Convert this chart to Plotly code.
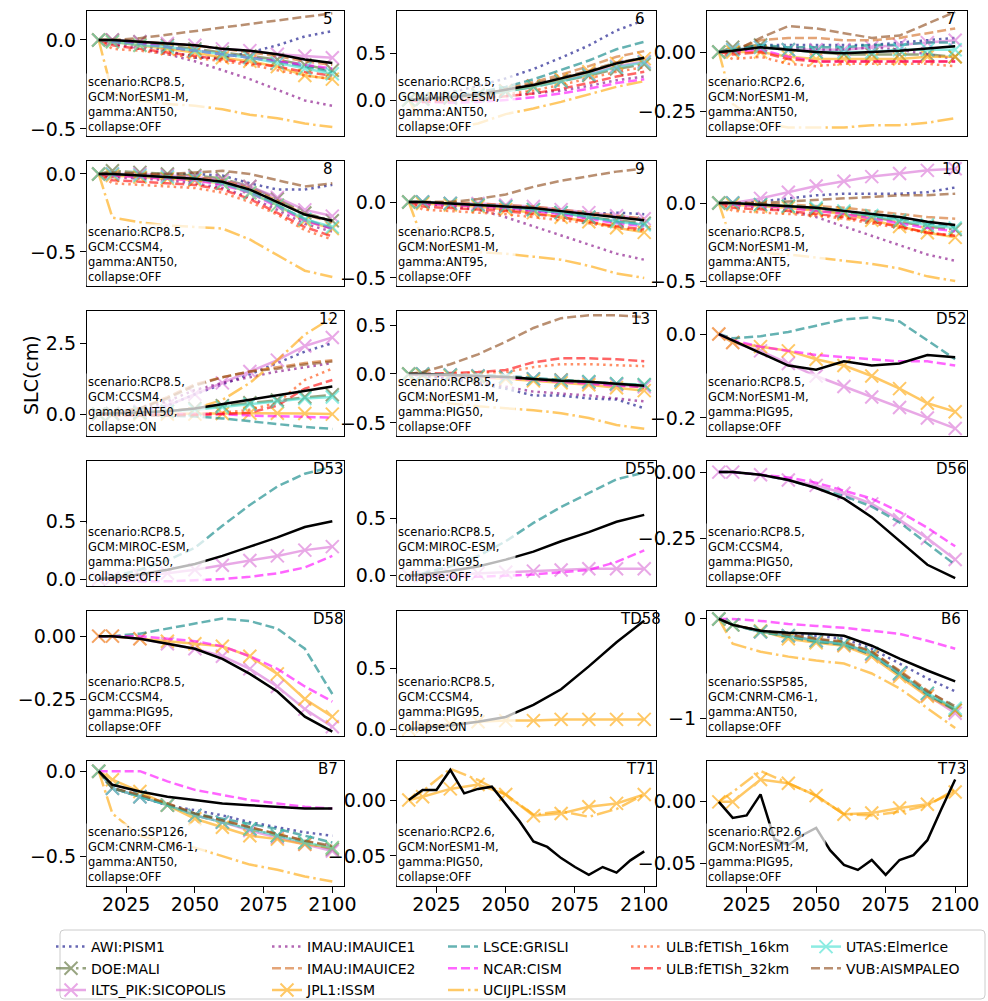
import plotly.graph_objects as go

# ---------------------------------------------------------------- data
YRS = [2015, 2020, 2030, 2040, 2050, 2060, 2070, 2080, 2090, 2100]
YRS5 = [2015, 2020, 2025, 2030, 2035, 2040, 2045, 2050, 2055,
        2060, 2065, 2070, 2075, 2080, 2085, 2090, 2095, 2100]

P5 = {
    'AWI': [0, -0.01, -0.03, -0.06, -0.1, -0.1, -0.07, -0.03, 0.02, 0.05],
    'DOE': [0, 0, -0.01, -0.03, -0.05, -0.07, -0.09, -0.11, -0.14, -0.17],
    'ILTS': [0, 0, -0.01, -0.02, -0.03, -0.05, -0.06, -0.08, -0.09, -0.1],
    'IMAU1': [0, -0.02, -0.05, -0.08, -0.12, -0.17, -0.22, -0.28, -0.34, -0.37],
    'IMAU2': [0, 0, -0.01, -0.02, -0.03, -0.05, -0.07, -0.09, -0.12, -0.14],
    'JPL1': [0, -0.01, -0.03, -0.05, -0.07, -0.1, -0.12, -0.15, -0.2, -0.22],
    'LSCE': [0, -0.01, -0.02, -0.04, -0.06, -0.08, -0.1, -0.12, -0.15, -0.18],
    'NCAR': [0, -0.01, -0.02, -0.04, -0.06, -0.08, -0.1, -0.12, -0.14, -0.16],
    'UCIJPL': [0, -0.3, -0.34, -0.36, -0.37, -0.39, -0.42, -0.44, -0.47, -0.49],
    'ULB16': [0, -0.05, -0.06, -0.08, -0.1, -0.12, -0.14, -0.17, -0.2, -0.22],
    'ULB32': [0, -0.03, -0.05, -0.07, -0.09, -0.11, -0.13, -0.15, -0.18, -0.2],
    'UTAS': [0, -0.01, -0.03, -0.04, -0.06, -0.08, -0.1, -0.13, -0.16, -0.19],
    'VUB': [0, 0, 0.01, 0.03, 0.05, 0.07, 0.09, 0.11, 0.13, 0.15],
    'ENS': [0, 0, -0.01, -0.02, -0.03, -0.05, -0.06, -0.08, -0.11, -0.13],
}
P6 = {
    'AWI': [0, 0.02, 0.08, 0.15, 0.23, 0.33, 0.45, 0.58, 0.74, 0.85],
    'DOE': [0, 0.01, 0.02, 0.05, 0.09, 0.14, 0.2, 0.26, 0.33, 0.38],
    'ILTS': [0, 0.01, 0.03, 0.06, 0.1, 0.15, 0.21, 0.28, 0.36, 0.41],
    'IMAU1': [0, 0, 0.01, 0.02, 0.04, 0.07, 0.1, 0.15, 0.21, 0.25],
    'IMAU2': [0, 0.01, 0.03, 0.07, 0.12, 0.19, 0.27, 0.36, 0.46, 0.52],
    'JPL1': [0, 0.01, 0.03, 0.06, 0.1, 0.15, 0.22, 0.3, 0.39, 0.44],
    'LSCE': [0, 0.01, 0.04, 0.08, 0.14, 0.22, 0.32, 0.42, 0.54, 0.62],
    'NCAR': [0, -0.02, -0.03, -0.02, 0, 0.03, 0.07, 0.12, 0.18, 0.22],
    'UCIJPL': [0, -0.27, -0.3, -0.25, -0.15, -0.09, -0.02, 0.06, 0.14, 0.2],
    'ULB16': [0, 0, 0.01, 0.03, 0.06, 0.1, 0.16, 0.23, 0.3, 0.35],
    'ULB32': [0, -0.02, -0.01, 0.01, 0.04, 0.07, 0.12, 0.18, 0.25, 0.3],
    'UTAS': [0, 0.01, 0.03, 0.05, 0.09, 0.14, 0.2, 0.27, 0.35, 0.4],
    'VUB': [0, 0.01, 0.03, 0.06, 0.11, 0.17, 0.24, 0.31, 0.4, 0.45],
    'ENS': [0, 0.01, 0.03, 0.06, 0.11, 0.16, 0.23, 0.3, 0.39, 0.45],
}
P7 = {
    'AWI': [0, 0.01, 0.03, 0.03, 0.03, 0.03, 0.03, 0.04, 0.05, 0.06],
    'DOE': [0, 0.02, 0.03, 0.01, 0, -0.01, -0.01, -0.01, -0.01, -0.02],
    'ILTS': [0, 0.01, 0.02, 0.01, 0.01, 0.01, 0.02, 0.03, 0.04, 0.05],
    'IMAU1': [0, 0, 0.02, 0.02, 0.01, 0.01, 0.02, 0.01, -0.01, -0.03],
    'IMAU2': [0, 0.01, 0.05, 0.06, 0.06, 0.05, 0.05, 0.06, 0.08, 0.1],
    'JPL1': [0, 0, 0, -0.02, -0.03, -0.03, -0.03, -0.03, -0.02, -0.02],
    'LSCE': [0, 0.01, 0.03, 0.02, 0.02, 0.02, 0.03, 0.03, 0.04, 0.04],
    'NCAR': [0, 0, 0.01, -0.02, -0.04, -0.04, -0.04, -0.04, -0.04, -0.04],
    'UCIJPL': [0, -0.22, -0.3, -0.32, -0.32, -0.32, -0.31, -0.31, -0.3, -0.28],
    'ULB16': [0, -0.03, -0.02, -0.05, -0.06, -0.05, -0.05, -0.05, -0.05, -0.06],
    'ULB32': [0, -0.01, 0, -0.03, -0.04, -0.04, -0.04, -0.04, -0.04, -0.04],
    'UTAS': [0, 0.01, 0.02, 0.01, 0, 0, 0, 0.01, 0.01, 0.01],
    'VUB': [0, 0, 0.06, 0.11, 0.1, 0.08, 0.06, 0.07, 0.12, 0.17],
    'ENS': [0, 0.005, 0.02, 0.01, 0, -0.005, 0, 0.005, 0.015, 0.025],
}
P8 = {
    'AWI': [0, 0, 0, 0, 0, -0.01, -0.06, -0.1, -0.1, -0.07],
    'DOE': [0, 0.02, 0.01, 0, -0.01, -0.03, -0.08, -0.16, -0.25, -0.3],
    'ILTS': [0, 0, 0, -0.01, -0.02, -0.04, -0.08, -0.15, -0.23, -0.27],
    'IMAU1': [0, -0.02, -0.03, -0.04, -0.06, -0.09, -0.15, -0.23, -0.32, -0.37],
    'IMAU2': [0, 0, 0, -0.01, -0.02, -0.04, -0.09, -0.17, -0.26, -0.31],
    'JPL1': [0, -0.01, -0.02, -0.03, -0.04, -0.06, -0.12, -0.2, -0.3, -0.35],
    'LSCE': [0, 0, -0.01, -0.02, -0.03, -0.06, -0.11, -0.2, -0.29, -0.35],
    'NCAR': [0, -0.01, -0.02, -0.03, -0.04, -0.07, -0.12, -0.21, -0.3, -0.35],
    'UCIJPL': [0, -0.28, -0.31, -0.33, -0.34, -0.35, -0.42, -0.52, -0.62, -0.66],
    'ULB16': [0, -0.06, -0.07, -0.08, -0.09, -0.12, -0.18, -0.26, -0.36, -0.42],
    'ULB32': [0, -0.04, -0.05, -0.06, -0.07, -0.1, -0.16, -0.25, -0.34, -0.4],
    'UTAS': [0, 0, -0.01, -0.02, -0.03, -0.06, -0.12, -0.2, -0.29, -0.34],
    'VUB': [0, 0.01, 0, 0, 0.01, 0.02, 0, -0.04, -0.08, -0.06],
    'ENS': [0, 0, -0.01, -0.02, -0.03, -0.05, -0.1, -0.18, -0.26, -0.3],
}
P9 = {
    'AWI': [0, -0.01, -0.02, -0.03, -0.05, -0.06, -0.07, -0.08, -0.07, -0.08],
    'DOE': [0, 0, -0.01, -0.02, -0.03, -0.05, -0.07, -0.1, -0.12, -0.14],
    'ILTS': [0, 0, -0.01, -0.01, -0.02, -0.03, -0.05, -0.07, -0.09, -0.11],
    'IMAU1': [0, -0.01, -0.03, -0.05, -0.1, -0.16, -0.22, -0.28, -0.34, -0.38],
    'IMAU2': [0, 0, 0, -0.01, -0.02, -0.03, -0.05, -0.07, -0.09, -0.11],
    'JPL1': [0, -0.01, -0.02, -0.03, -0.05, -0.07, -0.1, -0.13, -0.17, -0.2],
    'LSCE': [0, 0, -0.01, -0.02, -0.03, -0.05, -0.07, -0.1, -0.13, -0.15],
    'NCAR': [0, -0.01, -0.02, -0.03, -0.04, -0.06, -0.08, -0.11, -0.14, -0.16],
    'UCIJPL': [0, -0.25, -0.32, -0.33, -0.34, -0.36, -0.38, -0.42, -0.47, -0.5],
    'ULB16': [0, -0.05, -0.06, -0.07, -0.08, -0.1, -0.12, -0.14, -0.17, -0.19],
    'ULB32': [0, -0.03, -0.04, -0.05, -0.06, -0.08, -0.1, -0.13, -0.16, -0.18],
    'UTAS': [0, 0, -0.01, -0.02, -0.03, -0.05, -0.07, -0.1, -0.13, -0.15],
    'VUB': [0, 0, 0, 0.02, 0.05, 0.1, 0.14, 0.17, 0.2, 0.22],
    'ENS': [0, 0, -0.01, -0.02, -0.03, -0.04, -0.06, -0.08, -0.1, -0.12],
}
P10 = {
    'AWI': [0, 0, 0.01, 0.03, 0.05, 0.06, 0.06, 0.06, 0.07, 0.1],
    'DOE': [0, 0, -0.01, -0.02, -0.04, -0.06, -0.09, -0.12, -0.15, -0.17],
    'ILTS': [0, 0, 0.03, 0.07, 0.11, 0.14, 0.17, 0.19, 0.21, 0.22],
    'IMAU1': [0, -0.01, -0.03, -0.05, -0.09, -0.15, -0.21, -0.27, -0.33, -0.37],
    'IMAU2': [0, 0, 0, -0.01, -0.02, -0.03, -0.05, -0.07, -0.09, -0.1],
    'JPL1': [0, -0.01, -0.02, -0.03, -0.05, -0.07, -0.11, -0.15, -0.19, -0.22],
    'LSCE': [0, 0, -0.01, -0.02, -0.03, -0.05, -0.08, -0.1, -0.13, -0.15],
    'NCAR': [0, -0.01, -0.02, -0.03, -0.05, -0.07, -0.1, -0.13, -0.16, -0.18],
    'UCIJPL': [0, -0.27, -0.32, -0.33, -0.35, -0.37, -0.39, -0.42, -0.47, -0.5],
    'ULB16': [0, -0.05, -0.06, -0.07, -0.08, -0.1, -0.13, -0.16, -0.19, -0.21],
    'ULB32': [0, -0.03, -0.04, -0.05, -0.07, -0.09, -0.12, -0.15, -0.19, -0.21],
    'UTAS': [0, 0, -0.01, -0.02, -0.03, -0.05, -0.08, -0.11, -0.14, -0.16],
    'VUB': [0, 0, 0, 0.01, 0.02, 0.03, 0.04, 0.05, 0.05, 0.06],
    'ENS': [0, 0, -0.01, -0.02, -0.03, -0.05, -0.07, -0.09, -0.12, -0.14],
}
P12 = {
    'AWI': [0, 0.02, 0.1, 0.3, 0.7, 1.05, 1.4, 1.8, 2.2, 2.5],
    'DOE': [0, 0.02, 0.05, 0.1, 0.2, 0.3, 0.4, 0.5, 0.6, 0.68],
    'ILTS': [0, 0.02, 0.1, 0.3, 0.7, 1.1, 1.5, 1.9, 2.4, 2.7],
    'IMAU1': [0, 0.03, 0.15, 0.45, 0.85, 1.1, 1.3, 1.5, 1.65, 1.8],
    'IMAU2': [0, 0.05, 0.2, 0.6, 1.05, 1.3, 1.5, 1.65, 1.8, 1.9],
    'JPL1': [0, 0, 0, 0, 0, 0.02, 0.03, 0.03, 0.02, 0],
    'LSCE': [0, -0.02, -0.03, -0.05, -0.08, -0.15, -0.25, -0.35, -0.45, -0.52],
    'NCAR': [0, 0, 0, 0, 0, 0, -0.05, -0.08, -0.1, -0.12],
    'UCIJPL': [0, 0, 0.05, 0.1, 0.2, 0.5, 1.1, 1.9, 2.8, 3.4],
    'ULB16': [0, -0.03, -0.03, -0.02, 0, 0.05, 0.15, 0.4, 1.2, 1.6],
    'ULB32': [0, -0.05, -0.05, -0.05, -0.03, 0, 0.05, 0.3, 0.9, 1.2],
    'UTAS': [0, 0.01, 0.05, 0.1, 0.15, 0.25, 0.35, 0.45, 0.55, 0.6],
    'VUB': [0, 0.05, 0.2, 0.55, 1.0, 1.3, 1.5, 1.6, 1.75, 1.85],
    'ENS': [0, 0.02, 0.05, 0.1, 0.2, 0.35, 0.5, 0.65, 0.82, 0.97],
}
P13 = {
    'AWI': [0, -0.02, -0.05, -0.1, -0.15, -0.22, -0.22, -0.25, -0.26, -0.35],
    'DOE': [0, 0, -0.01, -0.02, -0.03, -0.05, -0.06, -0.08, -0.1, -0.11],
    'ILTS': [0, 0, -0.01, -0.02, -0.03, -0.05, -0.07, -0.09, -0.11, -0.13],
    'IMAU1': [0, -0.01, -0.04, -0.08, -0.13, -0.18, -0.2, -0.22, -0.25, -0.28],
    'IMAU2': [0, 0, -0.01, -0.02, -0.03, -0.05, -0.07, -0.09, -0.11, -0.14],
    'JPL1': [0, -0.01, -0.02, -0.03, -0.05, -0.07, -0.09, -0.11, -0.14, -0.17],
    'LSCE': [0, 0, 0, -0.01, -0.02, -0.04, -0.06, -0.08, -0.1, -0.12],
    'NCAR': [0, -0.01, -0.02, -0.03, -0.04, -0.06, -0.08, -0.1, -0.12, -0.13],
    'UCIJPL': [0, -0.25, -0.3, -0.33, -0.35, -0.37, -0.4, -0.45, -0.52, -0.56],
    'ULB16': [0, 0, 0, 0.01, 0.02, 0.07, 0.1, 0.1, 0.09, 0.08],
    'ULB32': [0, 0, 0.01, 0.02, 0.04, 0.12, 0.16, 0.16, 0.15, 0.13],
    'UTAS': [0, 0, -0.01, -0.02, -0.03, -0.05, -0.07, -0.08, -0.1, -0.11],
    'VUB': [0, 0.02, 0.1, 0.2, 0.33, 0.47, 0.57, 0.6, 0.6, 0.58],
    'ENS': [0, 0, -0.01, -0.02, -0.03, -0.05, -0.07, -0.08, -0.1, -0.12],
}
PD52 = {
    'ILTS': [0, -0.02, -0.04, -0.07, -0.1, -0.125, -0.15, -0.175, -0.2, -0.225],
    'JPL1': [0, -0.02, -0.03, -0.04, -0.06, -0.075, -0.1, -0.13, -0.165, -0.185],
    'LSCE': [0, -0.01, -0.005, 0.005, 0.02, 0.035, 0.04, 0.03, -0.015, -0.06],
    'NCAR': [0, -0.015, -0.03, -0.04, -0.05, -0.055, -0.06, -0.065, -0.065, -0.075],
    'ENS': [0, -0.015, -0.045, -0.075, -0.085, -0.065, -0.075, -0.07, -0.05, -0.055],
}
PD53 = {
    'ILTS': [0, 0.01, 0.03, 0.05, 0.08, 0.12, 0.16, 0.2, 0.25, 0.28],
    'LSCE': [0, 0.02, 0.08, 0.16, 0.27, 0.46, 0.64, 0.8, 0.91, 0.97],
    'NCAR': [0, -0.01, -0.02, -0.02, -0.01, 0, 0.02, 0.05, 0.1, 0.2],
    'ENS': [0, 0.01, 0.04, 0.08, 0.13, 0.2, 0.28, 0.36, 0.45, 0.5],
}
PD55 = {
    'ILTS': [0, 0, 0.01, 0.02, 0.03, 0.04, 0.05, 0.06, 0.06, 0.06],
    'LSCE': [0, 0.02, 0.08, 0.17, 0.3, 0.46, 0.6, 0.72, 0.84, 0.9],
    'NCAR': [0, 0, -0.01, -0.01, 0, 0.01, 0.03, 0.05, 0.12, 0.22],
    'ENS': [0, 0.01, 0.04, 0.08, 0.14, 0.21, 0.3, 0.38, 0.47, 0.53],
}
PD56 = {
    'ILTS': [0, 0, -0.01, -0.03, -0.05, -0.08, -0.12, -0.18, -0.25, -0.33],
    'LSCE': [0, 0, -0.01, -0.03, -0.06, -0.09, -0.13, -0.19, -0.27, -0.35],
    'NCAR': [0, 0, -0.01, -0.02, -0.04, -0.07, -0.1, -0.15, -0.21, -0.28],
    'ENS': [0, 0, -0.01, -0.03, -0.06, -0.1, -0.17, -0.26, -0.35, -0.4],
}
PD58 = {
    'ILTS': [0, 0, -0.01, -0.03, -0.05, -0.08, -0.13, -0.2, -0.29, -0.36],
    'JPL1': [0, 0, -0.01, -0.02, -0.03, -0.04, -0.08, -0.15, -0.25, -0.32],
    'LSCE': [0, 0, 0.01, 0.03, 0.05, 0.07, 0.06, 0.03, -0.05, -0.23],
    'NCAR': [0, 0, 0, -0.01, -0.02, -0.04, -0.08, -0.13, -0.2, -0.26],
    'ENS': [0, 0, -0.01, -0.03, -0.05, -0.09, -0.15, -0.22, -0.32, -0.38],
}
PTD58 = {
    'JPL1': [0, 0.02, 0.04, 0.06, 0.07, 0.07, 0.08, 0.08, 0.08, 0.08],
    'ENS': [0, 0.01, 0.03, 0.06, 0.1, 0.2, 0.33, 0.52, 0.72, 0.9],
}
PB6 = {
    'AWI': [0, -0.06, -0.12, -0.15, -0.17, -0.2, -0.3, -0.45, -0.6, -0.73],
    'DOE': [0, -0.06, -0.13, -0.17, -0.22, -0.25, -0.35, -0.55, -0.75, -0.92],
    'ILTS': [0, -0.06, -0.13, -0.17, -0.22, -0.26, -0.36, -0.56, -0.77, -0.95],
    'IMAU2': [0, -0.06, -0.12, -0.16, -0.2, -0.24, -0.33, -0.52, -0.72, -0.9],
    'JPL1': [0, -0.06, -0.12, -0.2, -0.24, -0.27, -0.38, -0.58, -0.78, -0.92],
    'LSCE': [0, -0.06, -0.13, -0.18, -0.23, -0.26, -0.36, -0.56, -0.76, -0.92],
    'NCAR': [0, 0, -0.02, -0.05, -0.07, -0.09, -0.12, -0.15, -0.22, -0.3],
    'UCIJPL': [0, -0.25, -0.33, -0.38, -0.42, -0.45, -0.55, -0.7, -0.9, -1.1],
    'UTAS': [0, -0.06, -0.13, -0.17, -0.22, -0.25, -0.35, -0.55, -0.75, -0.9],
    'VUB': [0, -0.06, -0.12, -0.16, -0.2, -0.23, -0.33, -0.53, -0.73, -0.88],
    'ENS': [0, -0.06, -0.12, -0.14, -0.15, -0.17, -0.27, -0.4, -0.52, -0.63],
}
PB7 = {
    'AWI': [0, -0.1, -0.15, -0.2, -0.23, -0.26, -0.3, -0.33, -0.36, -0.38],
    'DOE': [0, -0.1, -0.15, -0.2, -0.26, -0.3, -0.34, -0.38, -0.42, -0.46],
    'ILTS': [0, -0.1, -0.15, -0.2, -0.26, -0.3, -0.35, -0.39, -0.43, -0.47],
    'IMAU2': [0, -0.1, -0.14, -0.19, -0.25, -0.29, -0.33, -0.37, -0.41, -0.45],
    'JPL1': [0, -0.05, -0.12, -0.2, -0.28, -0.33, -0.38, -0.4, -0.43, -0.45],
    'LSCE': [0, -0.1, -0.15, -0.2, -0.25, -0.28, -0.31, -0.34, -0.38, -0.42],
    'NCAR': [0, 0, 0, -0.06, -0.11, -0.14, -0.17, -0.19, -0.21, -0.22],
    'UCIJPL': [0, -0.25, -0.38, -0.42, -0.45, -0.5, -0.55, -0.58, -0.62, -0.65],
    'UTAS': [0, -0.1, -0.15, -0.2, -0.26, -0.3, -0.34, -0.38, -0.42, -0.45],
    'VUB': [0, -0.1, -0.14, -0.19, -0.25, -0.29, -0.33, -0.37, -0.41, -0.44],
    'ENS': [0, -0.08, -0.12, -0.15, -0.17, -0.19, -0.2, -0.21, -0.22, -0.22],
}
PT71 = {
    'JPL1': [0, 0.003, 0.01, 0.014, 0.005, -0.014, -0.012, -0.006, -0.003, 0.005],
    'UCIJPL': [0, 0.008, 0.028, 0.018, 0.005, -0.013, -0.01, -0.015, -0.008, 0.005],
    'ENS': [0, 0.009, 0.009, 0.027, 0.006, 0.01, 0.012, -0.003, -0.019,
            -0.037, -0.042, -0.052, -0.06, -0.067, -0.06, -0.065, -0.054, -0.046],
}
PT73 = {
    'JPL1': [0, 0, 0.018, 0.015, 0.005, -0.01, -0.009, -0.005, -0.002, 0.008],
    'UCIJPL': [0, 0.008, 0.025, 0.015, 0.005, -0.01, -0.011, -0.008, -0.003, 0.01],
    'ENS': [0, -0.013, -0.011, 0.006, -0.03, -0.035, -0.027, -0.021, -0.039,
            -0.051, -0.055, -0.047, -0.059, -0.047, -0.043, -0.031, -0.006, 0.018],
}

PANEL_LABELS = ['5', '6', '7', '8', '9', '10', '12', '13', 'D52',
                'D53', 'D55', 'D56', 'D58', 'TD58', 'B6', 'B7', 'T71', 'T73']
PANEL_DATA = [P5, P6, P7, P8, P9, P10, P12, P13, PD52,
              PD53, PD55, PD56, PD58, PTD58, PB6, PB7, PT71, PT73]
SCENARIO = ['RCP8.5', 'RCP8.5', 'RCP2.6', 'RCP8.5', 'RCP8.5', 'RCP8.5', 'RCP8.5', 'RCP8.5', 'RCP8.5',
            'RCP8.5', 'RCP8.5', 'RCP8.5', 'RCP8.5', 'RCP8.5', 'SSP585', 'SSP126', 'RCP2.6', 'RCP2.6']
GCM = ['NorESM1-M', 'MIROC-ESM', 'NorESM1-M', 'CCSM4', 'NorESM1-M', 'NorESM1-M', 'CCSM4', 'NorESM1-M',
       'NorESM1-M', 'MIROC-ESM', 'MIROC-ESM', 'CCSM4', 'CCSM4', 'CCSM4', 'CNRM-CM6-1', 'CNRM-CM6-1',
       'NorESM1-M', 'NorESM1-M']
GAMMA = ['ANT50', 'ANT50', 'ANT50', 'ANT50', 'ANT95', 'ANT5', 'ANT50', 'PIG50', 'PIG95',
         'PIG50', 'PIG95', 'PIG50', 'PIG95', 'PIG95', 'ANT50', 'ANT50', 'PIG50', 'PIG95']
COLLAPSE = ['OFF', 'OFF', 'OFF', 'OFF', 'OFF', 'OFF', 'ON', 'OFF', 'OFF',
            'OFF', 'OFF', 'OFF', 'OFF', 'ON', 'OFF', 'OFF', 'OFF', 'OFF']
Y_RANGES = [[-0.54, 0.163], [-0.383, 0.947], [-0.356, 0.174], [-0.718, 0.083], [-0.553, 0.27],
            [-0.532, 0.27], [-0.77, 3.63], [-0.633, 0.643], [-0.243, 0.055], [-0.06, 1.02],
            [-0.09, 1.0], [-0.43, 0.042], [-0.397, 0.1], [-0.058, 0.98], [-1.18, 0.08],
            [-0.676, 0.06], [-0.077, 0.035], [-0.068, 0.033]]
Y_TICKS = [[0, -0.5], [0, 0.5], [0, -0.25], [0, -0.5], [0, -0.5], [0, -0.5], [0, 2.5],
           [-0.5, 0, 0.5], [0, -0.2], [0, 0.5], [0, 0.5], [0, -0.25], [0, -0.25], [0, 0.5],
           [0, -1], [0, -0.5], [0, -0.05], [0, -0.05]]
Y_TICKTEXT = [['0.0', '\u22120.5'], ['0.0', '0.5'], ['0.00', '\u22120.25'], ['0.0', '\u22120.5'],
              ['0.0', '\u22120.5'], ['0.0', '\u22120.5'], ['0.0', '2.5'], ['\u22120.5', '0.0', '0.5'],
              ['0.0', '\u22120.2'], ['0.0', '0.5'], ['0.0', '0.5'], ['0.00', '\u22120.25'],
              ['0.00', '\u22120.25'], ['0.0', '0.5'], ['0', '\u22121'], ['0.0', '\u22120.5'],
              ['0.00', '\u22120.05'], ['0.00', '\u22120.05']]
X_TICKS = [2025, 2050, 2075, 2100]

MODELS = ['AWI', 'DOE', 'ILTS', 'IMAU1', 'IMAU2', 'JPL1', 'LSCE', 'NCAR',
          'UCIJPL', 'ULB16', 'ULB32', 'UTAS', 'VUB']
MODEL_NAMES = {
    'AWI': 'AWI:PISM1', 'DOE': 'DOE:MALI', 'ILTS': 'ILTS_PIK:SICOPOLIS',
    'IMAU1': 'IMAU:IMAUICE1', 'IMAU2': 'IMAU:IMAUICE2', 'JPL1': 'JPL1:ISSM',
    'LSCE': 'LSCE:GRISLI', 'NCAR': 'NCAR:CISM', 'UCIJPL': 'UCIJPL:ISSM',
    'ULB16': 'ULB:fETISh_16km', 'ULB32': 'ULB:fETISh_32km', 'UTAS': 'UTAS:ElmerIce',
    'VUB': 'VUB:AISMPALEO',
}

# ---------------------------------------------------------------- styles
DOT = '2.5px,4px'
DASH = '9px,4px'
DASHDOT = '16px,4px,2.5px,4px'
STYLE = {
    'AWI': ('navy', DOT, False),
    'DOE': ('darkolivegreen', DASHDOT, True),
    'ILTS': ('orchid', 'solid', True),
    'IMAU1': ('purple', DOT, False),
    'IMAU2': ('chocolate', DASH, False),
    'JPL1': ('orange', 'solid', True),
    'LSCE': ('teal', DASH, False),
    'NCAR': ('magenta', DASH, False),
    'UCIJPL': ('orange', DASHDOT, False),
    'ULB16': ('orangered', DOT, False),
    'ULB32': ('red', DASH, False),
    'UTAS': ('turquoise', 'solid', True),
    'VUB': ('saddlebrown', DASH, False),
}
LEGEND_OF = {'AWI': 'legend', 'DOE': 'legend', 'ILTS': 'legend',
             'IMAU1': 'legend2', 'IMAU2': 'legend2', 'JPL1': 'legend2',
             'LSCE': 'legend3', 'NCAR': 'legend3', 'UCIJPL': 'legend3',
             'ULB16': 'legend4', 'ULB32': 'legend4',
             'UTAS': 'legend5', 'VUB': 'legend5'}

W, H = 988, 1001
COL_PX = [(87, 344), (397, 656), (707, 967)]
ROW_TOP = [11, 161, 311, 461, 611, 761]
ROW_H = 125
FONT = 'DejaVu Sans'

fig = go.Figure()
layout = {}
annotations = []
shown = set()

for i, label in enumerate(PANEL_LABELS):
    r, c = divmod(i, 3)
    n = '' if i == 0 else str(i + 1)
    data = PANEL_DATA[i]
    for m in MODELS + ['ENS']:
        if m not in data:
            continue
        vals = data[m]
        xs = YRS if len(vals) == len(YRS) else YRS5
        if m == 'ENS':
            fig.add_trace(go.Scatter(
                x=xs, y=vals, mode='lines', xaxis='x' + n, yaxis='y' + n,
                line=dict(color='black', width=2.5), showlegend=False,
                hoverinfo='skip'))
            continue
        color, dash, mark = STYLE[m]
        show = m not in shown
        shown.add(m)
        tr = dict(x=xs, y=vals, xaxis='x' + n, yaxis='y' + n, name=MODEL_NAMES[m],
                  line=dict(color=color, width=2.5, dash=dash), opacity=0.6,
                  showlegend=show, legend=LEGEND_OF[m], legendgroup=m,
                  mode='lines+markers' if mark else 'lines', hoverinfo='skip')
        if mark:
            tr['marker'] = dict(symbol='x-thin', size=13,
                                line=dict(width=2, color=color), color=color)
        fig.add_trace(go.Scatter(**tr))

    x0, x1 = COL_PX[c]
    top = ROW_TOP[r]
    bottom = top + ROW_H
    bottom_row = (r == 5)
    layout['xaxis' + n] = dict(
        domain=[x0 / W, x1 / W], anchor='y' + n, range=[2010.75, 2104.25],
        tickvals=X_TICKS, ticktext=[str(v) for v in X_TICKS],
        showticklabels=bottom_row, ticks='outside' if bottom_row else '',
        ticklen=6, tickwidth=1.3, tickcolor='black', ticklabelstandoff=-5,
        showline=True, mirror=True, linecolor='black', linewidth=1.3,
        showgrid=False, zeroline=False, tickfont=dict(size=19, color='black'))
    layout['yaxis' + n] = dict(
        domain=[1 - bottom / H, 1 - top / H], anchor='x' + n, range=Y_RANGES[i],
        tickvals=Y_TICKS[i], ticktext=Y_TICKTEXT[i], ticks='outside',
        ticklen=6, tickwidth=1.3, tickcolor='black',
        showline=True, mirror=True, linecolor='black', linewidth=1.3,
        showgrid=False, zeroline=False, tickfont=dict(size=19, color='black'))

    annotations.append(dict(
        xref='x' + n + ' domain', yref='y' + n + ' domain', x=0, y=0,
        xanchor='left', yanchor='bottom', xshift=-1, align='left',
        text='scenario:%s,<br>GCM:%s,<br>gamma:%s,<br>collapse:%s'
             % (SCENARIO[i], GCM[i], GAMMA[i], COLLAPSE[i]),
        showarrow=False, bgcolor='rgba(255,255,255,0.72)', borderpad=1, width=116,
        font=dict(size=11.5, color='black', family=FONT)))
    annotations.append(dict(
        xref='x' + n + ' domain', yref='y' + n + ' domain', x=0.95, y=1,
        xanchor='center', yanchor='top', xshift=-3, yshift=3, text=label,
        showarrow=False, font=dict(size=15, color='black', family=FONT)))

annotations.append(dict(
    xref='paper', yref='paper', x=18 / W, y=1 - 375 / H, text='SLC(cm)',
    textangle=-90, showarrow=False, font=dict(size=19, color='black', family=FONT)))

# five legend columns inside one framed box
LEG_X = [51, 267, 443, 626, 806]
for k, lx in enumerate(LEG_X):
    key = 'legend' if k == 0 else 'legend%d' % (k + 1)
    layout[key] = dict(x=lx / W, y=1 - 931 / H, xanchor='left', yanchor='top',
                       orientation='v', bgcolor='rgba(0,0,0,0)', borderwidth=0,
                       font=dict(size=14, color='black', family=FONT),
                       tracegroupgap=0.5, itemwidth=30)

bx0, bx1, by0, by1, rad = 60 / W, 985 / W, 1 - 999 / H, 1 - 930 / H, 4
rx, ry = rad / W, rad / H
box_path = ('M {a},{b} L {c},{b} Q {x1},{b} {x1},{d} L {x1},{e} Q {x1},{y1} {c},{y1} '
            'L {a},{y1} Q {x0},{y1} {x0},{e} L {x0},{d} Q {x0},{b} {a},{b} Z').format(
    a=bx0 + rx, b=by0, c=bx1 - rx, d=by0 + ry, e=by1 - ry, x0=bx0, x1=bx1, y1=by1)

fig.update_layout(
    width=W, height=H, margin=dict(l=0, r=0, t=0, b=0, autoexpand=False),
    paper_bgcolor='white', plot_bgcolor='white',
    font=dict(family=FONT, color='black'),
    annotations=annotations,
    shapes=[dict(type='path', xref='paper', yref='paper', path=box_path,
                 line=dict(color='#cccccc', width=1), fillcolor='white', layer='below')],
    **layout)

fig.write_html('out.html')
